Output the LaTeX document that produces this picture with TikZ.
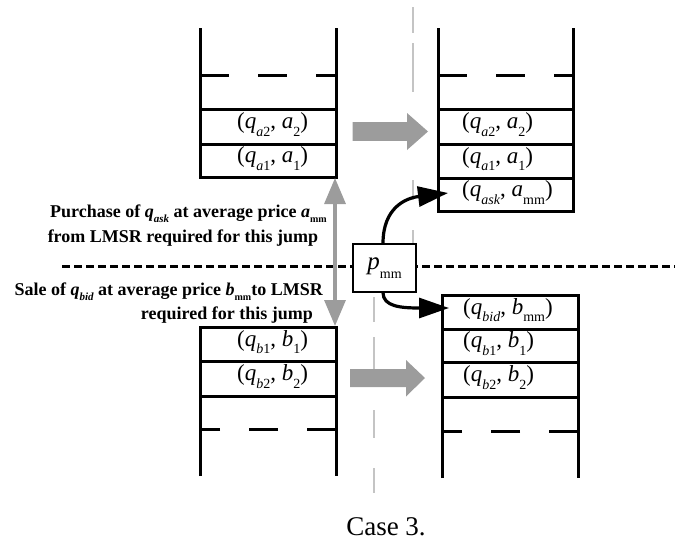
\documentclass[tikz,border=0pt]{standalone}
\usepackage{fontspec}
\usepackage{graphicx}
\setmainfont{Liberation Serif}
\usetikzlibrary{arrows.meta}

% lowered subscript: #1 = size of the subscript, #2 = its text
\newcommand\lo[2]{\raisebox{-0.33em}{\fontsize{#1}{#1}\selectfont #2}}

\definecolor{blockgray}{HTML}{9C9C9C}
\definecolor{axisgray}{HTML}{C4C4C4}

\tikzset{
  wall/.style={line width=3pt, line join=miter},
  gapline/.style={line width=3pt, dash pattern=on 29pt off 29pt},
  entry/.style={font=\fontsize{23}{25}\selectfont, inner sep=0pt, anchor=mid west},
  note/.style={font=\fontsize{18}{20}\selectfont\bfseries, inner sep=0pt},
  axis/.style={draw=axisgray, line width=1.5pt},
  split/.style={line width=3pt, dash pattern=on 8pt off 4pt},
  jump/.style={draw=blockgray, line width=3.3pt,
    {Triangle[length=26pt,width=21pt]}-{Triangle[length=26pt,width=21pt]}},
  feed/.style={line width=3.2pt, -{Triangle[length=30pt,width=20pt]}},
  pbox/.style={draw, line width=1.2pt, fill=white, minimum width=63pt,
    minimum height=48pt, inner sep=0pt, font=\fontsize{25}{26}\selectfont},
}

\begin{document}
\begin{tikzpicture}[x=1pt,y=-1pt]
\useasboundingbox (0,0) rectangle (675,544);

% vertical reference axis and the horizontal price split
\draw[axis, dash pattern=on 26pt off 10pt on 49pt off 88pt on 20pt off 30pt on 17pt off 20pt]
  (413,7) -- (413,247);
\draw[axis, dash pattern=on 25pt off 15pt on 40pt off 33pt on 28pt off 30pt on 25pt off 20pt]
  (374,297) -- (374,493);
\draw[split] (62,266) -- (675,266);

% ask side, before
\draw[wall] (200,28) -- (200,177) -- (336,177) -- (336,28);
\draw[wall] (200,109) -- (336,109);
\draw[wall] (200,144) -- (336,144);
\draw[gapline] (200,75) -- (336,75);

% ask side, after
\draw[wall] (438,28) -- (438,211) -- (573,211) -- (573,28);
\draw[wall] (438,109) -- (573,109);
\draw[wall] (438,144) -- (573,144);
\draw[wall] (438,178) -- (573,178);
\draw[gapline] (438,75) -- (573,75);

% bid side, before
\draw[wall] (200,476) -- (200,327) -- (336,327) -- (336,476);
\draw[wall] (200,361) -- (336,361);
\draw[wall] (200,396) -- (336,396);
\draw[gapline] (336,429) -- (200,429);

% bid side, after
\draw[wall] (442,478) -- (442,295) -- (578,295) -- (578,478);
\draw[wall] (442,329) -- (578,329);
\draw[wall] (442,362) -- (578,362);
\draw[wall] (442,397) -- (578,397);
\draw[gapline] (578,431) -- (442,431);

% block arrows from "before" to "after"
\fill[blockgray] (352.7,122.2) -- (407,122.2) -- (407,113) -- (428,131.5)
  -- (407,150) -- (407,140.8) -- (352.7,140.8) -- cycle;
\fill[blockgray] (350,369) -- (406,369) -- (406,360) -- (425,378)
  -- (406,396.5) -- (406,387) -- (350,387) -- cycle;

% the jump across the spread
\coordinate (askfloor) at (335,178);
\coordinate (bidtop) at (335,326);
\draw[jump] (askfloor) -- (bidtop);

% market maker price
\node[pbox] (pmm) at (384.5,268) {\textit{p}\lo{14}{mm}};

% book entries
\node[entry] (a2l) at (237,126.5) {(\textit{q}\lo{14}{\textit{a}2}, \textit{a}\lo{14}{2})};
\node[entry] (a1l) at (237,160.5) {(\textit{q}\lo{14}{\textit{a}1}, \textit{a}\lo{14}{1})};
\node[entry] (a2r) at (462,126.5) {(\textit{q}\lo{14}{\textit{a}2}, \textit{a}\lo{14}{2})};
\node[entry] (a1r) at (462,161) {(\textit{q}\lo{14}{\textit{a}1}, \textit{a}\lo{14}{1})};
\node[entry] (askr) at (462,194.5) {(\textit{q}\lo{14}{\textit{ask}}, \textit{a}\lo{14}{mm})};

\node[entry] (b1l) at (237,344) {(\textit{q}\lo{14}{\textit{b}1}, \textit{b}\lo{14}{1})};
\node[entry] (b2l) at (237,378.5) {(\textit{q}\lo{14}{\textit{b}2}, \textit{b}\lo{14}{2})};
\node[entry] (bidr) at (463,312) {(\textit{q}\lo{14}{\textit{bid}}, \textit{b}\lo{14}{mm})};
\node[entry] (b1r) at (463,345.5) {(\textit{q}\lo{14}{\textit{b}1}, \textit{b}\lo{14}{1})};
\node[entry] (b2r) at (463,379.5) {(\textit{q}\lo{14}{\textit{b}2}, \textit{b}\lo{14}{2})};

% links from the market maker into the new entries
\coordinate (askin) at (448,193);
\coordinate (bidin) at (449,308);
\draw[feed] ([xshift=-1.5pt]pmm.north) .. controls +(0,-36) and +(-42,5) .. (askin);
\draw[feed] ([xshift=-1.5pt]pmm.south) .. controls +(0,14) and +(-48,0) .. (bidin);

% explanations of the jump
\node[note, anchor=base] (buy1) at (188.5,217)
  {Purchase of \textit{q}\lo{11}{\textit{ask}} at average price \textit{a}\lo{10}{mm}};
\node[note, anchor=base] (buy2) at (183,242) {from LMSR required for this jump};
\node[note, anchor=base east] (sell1) at (323,295)
  {Sale of \textit{q}\lo{11}{\textit{bid}} at average price \textit{b}\lo{10}{mm}to LMSR};
\node[note, anchor=base east] (sell2) at (313,319.5) {required for this jump};

% caption
\node[font=\fontsize{27}{28}\selectfont, inner sep=0pt, anchor=base] (cap) at (386,535) {Case 3.};
\end{tikzpicture}
\end{document}
